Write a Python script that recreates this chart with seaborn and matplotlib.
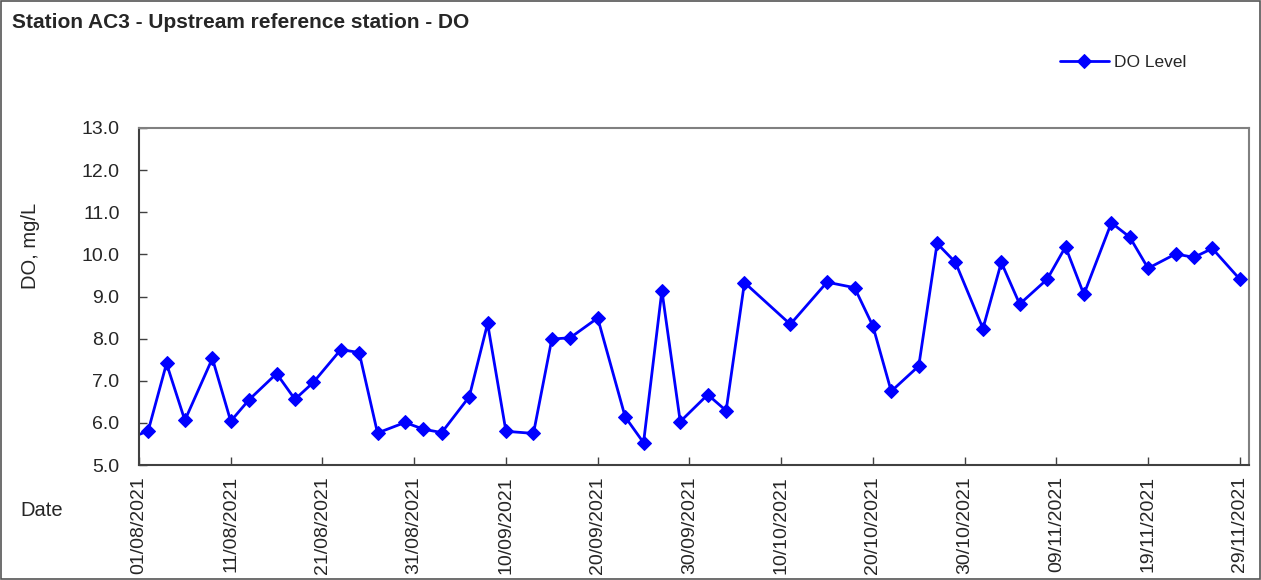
import pandas as pd
import numpy as np
import matplotlib
matplotlib.use("Agg")
import matplotlib.pyplot as plt
import matplotlib.dates as mdates
import seaborn as sns

# DO readings (first one sits just left of the axis and is clipped)
sample_dates = ["2021-07-30", "2021-08-02", "2021-08-04", "2021-08-06", "2021-08-09",
                "2021-08-11", "2021-08-13", "2021-08-16", "2021-08-18", "2021-08-20",
                "2021-08-23", "2021-08-25", "2021-08-27", "2021-08-30", "2021-09-01",
                "2021-09-03", "2021-09-06", "2021-09-08", "2021-09-10", "2021-09-13",
                "2021-09-15", "2021-09-17", "2021-09-20", "2021-09-23", "2021-09-25",
                "2021-09-27", "2021-09-29", "2021-10-02", "2021-10-04", "2021-10-06",
                "2021-10-11", "2021-10-15", "2021-10-18", "2021-10-20", "2021-10-22",
                "2021-10-25", "2021-10-27", "2021-10-29", "2021-11-01", "2021-11-03",
                "2021-11-05", "2021-11-08", "2021-11-10", "2021-11-12", "2021-11-15",
                "2021-11-17", "2021-11-19", "2021-11-22", "2021-11-24", "2021-11-26",
                "2021-11-29"]
do_level = [5.55, 5.81, 7.41, 6.06, 7.53,
            6.04, 6.55, 7.17, 6.56, 6.96,
            7.74, 7.67, 5.76, 6.01, 5.85,
            5.77, 6.62, 8.36, 5.80, 5.75,
            7.99, 8.02, 8.49, 6.14, 5.53,
            9.14, 6.03, 6.67, 6.29, 9.33,
            8.34, 9.34, 9.21, 8.30, 6.75,
            7.35, 10.26, 9.81, 8.24, 9.81,
            8.82, 9.41, 10.18, 9.05, 10.75,
            10.41, 9.67, 10.01, 9.93, 10.14,
            9.41]

x_start = "2021-08-01"
x_end = "2021-11-30"
tick_dates = pd.date_range("2021-08-01", "2021-11-29", freq="10D")
y_ticks = np.arange(5.0, 13.01, 1.0)

df = pd.DataFrame({"Date": pd.to_datetime(sample_dates), "DO": do_level})

sns.set_style("white")
plt.rcParams['font.family'] = ['Liberation Sans', 'DejaVu Sans']

fig = plt.figure(figsize=(12.61, 5.80), dpi=100)
ax = fig.add_axes([139 / 1261, 1 - 465 / 580, 1110 / 1261, 337 / 580])

sns.lineplot(data=df, x="Date", y="DO", ax=ax, color="#0000ff", linewidth=2,
             marker="D", markersize=7.5, markeredgecolor="#0000ff",
             markerfacecolor="#0000ff", sort=False, label="DO Level")

ax.set_xlim(pd.Timestamp(x_start), pd.Timestamp(x_end))
ax.set_ylim(5.0, 13.0)
ax.set_xticks(tick_dates)
ax.xaxis.set_major_formatter(mdates.DateFormatter("%d/%m/%Y"))
ax.set_yticks(y_ticks)
ax.set_yticklabels([f"{v:.1f}" for v in y_ticks])
ax.tick_params(axis="x", direction="in", length=6, width=1, color="#404040",
               labelsize=14, rotation=90, pad=8, bottom=True)
ax.tick_params(axis="y", direction="in", length=6, width=1, color="#404040",
               labelsize=14, pad=14, left=True)
ax.set_xlabel("")
ax.set_ylabel("")
for side, sp in ax.spines.items():
    sp.set_visible(True)
    sp.set_color("#808080")
    sp.set_linewidth(1.5)
ax.spines["left"].set_color("#404040")
ax.spines["bottom"].set_color("#404040")

ax.legend(loc="center left", bbox_to_anchor=(1060 / 1261, 1 - 62 / 580),
          bbox_transform=fig.transFigure, frameon=False, fontsize=12.5,
          handlelength=2.8, handletextpad=0.3, borderpad=0, borderaxespad=0)

fig.text(12 / 1261, 1 - 22 / 580, "Station AC3 - Upstream reference station - DO",
         fontsize=15, fontweight="bold", va="center", ha="left")
fig.text(30 / 1261, 1 - 246 / 580, "DO, mg/L", fontsize=14.5, rotation=90,
         va="center", ha="center")
fig.text(42 / 1261, 1 - 510 / 580, "Date", fontsize=14.5, va="center", ha="center")

fig.patches.append(plt.Rectangle((0.0005, 0.001), 0.999, 0.998, transform=fig.transFigure,
                                 fill=False, edgecolor="#555555", linewidth=1.2))

fig.savefig("out.png", dpi=100)
